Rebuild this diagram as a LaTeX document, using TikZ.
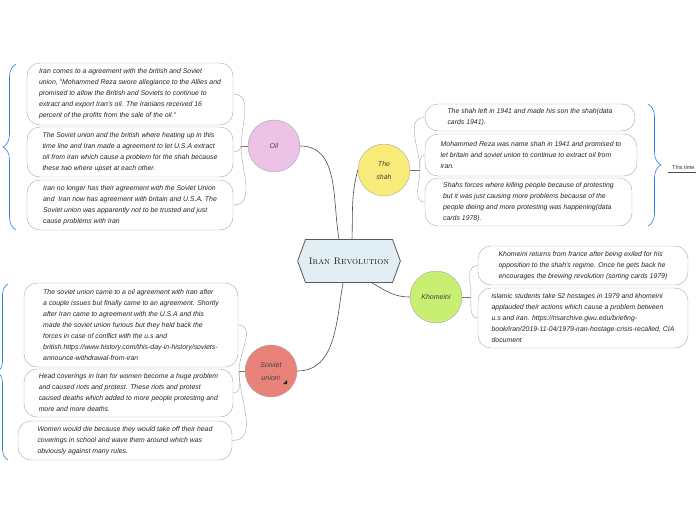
\documentclass[tikz,border=0pt]{standalone}
\usepackage{fontspec}
\newfontfamily\leaffont{Liberation Sans}
\usetikzlibrary{shapes.symbols,decorations.pathreplacing}

\definecolor{oilpink}{HTML}{EEC1E6}
\definecolor{shahyellow}{HTML}{F9EC7A}
\definecolor{khogreen}{HTML}{C8EE72}
\definecolor{sovred}{HTML}{E9837A}
\definecolor{revblue}{HTML}{E1EEF4}
\definecolor{bracecol}{HTML}{2B7DE9}

\tikzset{
  leaf/.style={draw=black!35, fill=white, rounded corners=13pt, inner sep=2pt,
    align=left, text=black!85, font=\leaffont\itshape\fontsize{6.9}{11}\selectfont},
  topic/.style={draw=black!35, circle, minimum size=52pt, inner sep=1pt,
    align=center, text=black!75, font=\leaffont\itshape\fontsize{7}{13}\selectfont},
  trunk/.style={draw=black!70, semithick},
  stem/.style={draw=black!55, semithick},
  twig/.style={draw=black!35, thin},
  curly/.style={draw=bracecol, semithick, decorate,
    decoration={brace, amplitude=#1, aspect=0.5}},
}

\begin{document}
\begin{tikzpicture}[x=1pt, y=1pt]
  \useasboundingbox (0,0) rectangle (696,-520);
  \clip (0,0) rectangle (696,-520);

  % Central topic
  \node[shape=signal, signal to=west and east, signal pointer angle=140,
        draw=black!65, thick, fill=revblue, minimum width=102pt, minimum height=43pt,
        text=black!90, font=\fontsize{9.5}{11}\selectfont\scshape] (rev) at (349,-261) {Iran Revolution};

  % Main topics
  \node[topic, fill=oilpink] (oil) at (274,-146) {Oil};
  \node[topic, fill=shahyellow] (shah) at (384,-170) {The\\shah};
  \node[topic, fill=khogreen] (kho) at (436,-297) {Khomeini};
  \node[topic, fill=sovred] (sov) at (271,-371) {Soiviet\\union!};
  \fill[black!85] (283,-384) -- (287,-384) -- (287,-380) -- cycle;

  \draw[trunk] (oil.east) to[out=0, in=100] ([xshift=-10pt]rev.north);
  \draw[trunk] ([xshift=3pt]rev.north) to[out=88, in=-105] (shah.west);
  \draw[trunk] ([xshift=23pt]rev.south) to[out=-30, in=180] (kho.west);
  \draw[trunk] ([xshift=-6pt]rev.south) to[out=-100, in=0] (sov.east);

  % Oil
  \node[leaf, minimum width=206pt, minimum height=62pt] (o1) at (130,-94)
    {Iran comes to a agreement with the british and Soviet\\
     union, "Mohammed Reza swore allegiance to the Allies and\\
     promised to allow the British and Soviets to continue to\\
     extract and export Iran's oil. The Iranians received 16\\
     percent of the profits from the sale of the oil."};
  \node[leaf, minimum width=206pt, minimum height=50pt] (o2) at (130,-152)
    {The Soviet union and the british where heating up in this\\
     time line and Iran made a agreement to let U.S.A extract\\
     oil from iran which cause a problem for the shah because\\
     these two where upset at each other.};
  \node[leaf, minimum width=206pt, minimum height=50pt] (o3) at (130,-205)
    {Iran no longer has their agreement with the Soviet Union\\
     and~ Iran now has agreement with britain and U.S.A. The\\
     Soviet union was apparently not to be trusted and just\\
     cause problems with Iran};
  \coordinate (oilj) at (241,-146);
  \draw[twig] (o1.east) to[out=0, in=90] (oilj);
  \draw[twig] (o2.east) to[out=0, in=-90] (oilj);
  \draw[twig] (o3.east) to[out=0, in=-90] (oilj);
  \draw[stem] (oilj) -- (oil.west);
  \draw[curly=13pt] (16,-230) -- (16,-64);

  % The shah
  \node[leaf, minimum width=210pt, minimum height=27pt] (s1) at (530,-117.5)
    {The shah left in 1941 and made his son the shah(data\\
     cards 1941).};
  \node[leaf, minimum width=212pt, minimum height=42pt] (s2) at (531,-155)
    {Mohammed Reza was name shah in 1941 and promised to\\
     let britain and soviet union to continue to extract oil from\\
     iran.};
  \node[leaf, minimum width=207pt, minimum height=48pt] (s3) at (528.5,-202)
    {Shahs forces where killing people because of protesting\\
     but it was just causing more problems because of the\\
     people dieing and more protesting was happening(data\\
     cards 1978).};
  \coordinate (shahj) at (420,-170);
  \draw[twig] (shahj) to[out=90, in=180] (s1.west);
  \draw[twig] (shahj) to[out=90, in=180] (s2.west);
  \draw[twig] (shahj) to[out=-90, in=180] (s3.west);
  \draw[stem] (shah.east) -- (shahj);
  \draw[curly=13pt] (648,-104) -- (648,-226);
  \node[font=\leaffont\fontsize{5.5}{6}\selectfont, text=black!80, anchor=south west,
        inner sep=1pt] (tl) at (671,-171) {This time};
  \draw[black!70, semithick] ([xshift=-3pt,yshift=-1pt]tl.south west) -- ++(40,0);

  % Khomeini
  \node[leaf, minimum width=210pt, minimum height=39pt] (k1) at (583,-265.5)
    {Khomeini returns from france after being exiled for his\\
     opposition to the shah's regime. Once he gets back he\\
     encourages the brewing revolution (sorting cards 1979)};
  \node[leaf, minimum width=210pt, minimum height=60pt] (k2) at (583,-318)
    {islamic students take 52 hostages in 1979 and khomeini\\
     applauded their actions which cause a problem between\\
     u.s and iran. https://nsarchive.gwu.edu/briefing-\\
     book/iran/2019-11-04/1979-iran-hostage-crisis-recalled, CIA\\
     document};
  \coordinate (khoj) at (471,-297);
  \draw[twig] (khoj) to[out=90, in=180] (k1.west);
  \draw[twig] (khoj) to[out=-90, in=180] (k2.west);
  \draw[stem] (kho.east) -- (khoj);

  % Soviet union
  \node[leaf, minimum width=214pt, minimum height=84pt] (v1) at (131,-325)
    {The soviet union came to a oil agreement with Iran after\\
     a couple issues but finally came to an agreement. Shortly\\
     after Iran came to agreement with the U.S.A and this\\
     made the soviet union furious but they held back the\\
     forces in case of conflict with the u.s and\\
     british.https://www.history.com/this-day-in-history/soviets-\\
     announce-withdrawal-from-iran};
  \node[leaf, minimum width=209pt, minimum height=48pt] (v2) at (128.5,-393)
    {Head coverings in Iran for women become a huge problem\\
     and caused riots and protest. These riots and protest\\
     caused deaths which added to more people protesting and\\
     more and more deaths.};
  \node[leaf, minimum width=214pt, minimum height=39pt] (v3) at (125,-440.5)
    {Women would die because they would take off their head\\
     coverings in school and wave them around which was\\
     obviously against many rules.};
  \coordinate (sovj) at (239,-371);
  \draw[twig] (v1.east) to[out=0, in=90] (sovj);
  \draw[twig] (v2.east) to[out=0, in=-90] (sovj);
  \draw[twig] (v3.east) to[out=0, in=-90] (sovj);
  \draw[stem] (sovj) -- (sov.west);
  \draw[curly=11pt] (8,-460) -- (8,-284);
\end{tikzpicture}
\end{document}
